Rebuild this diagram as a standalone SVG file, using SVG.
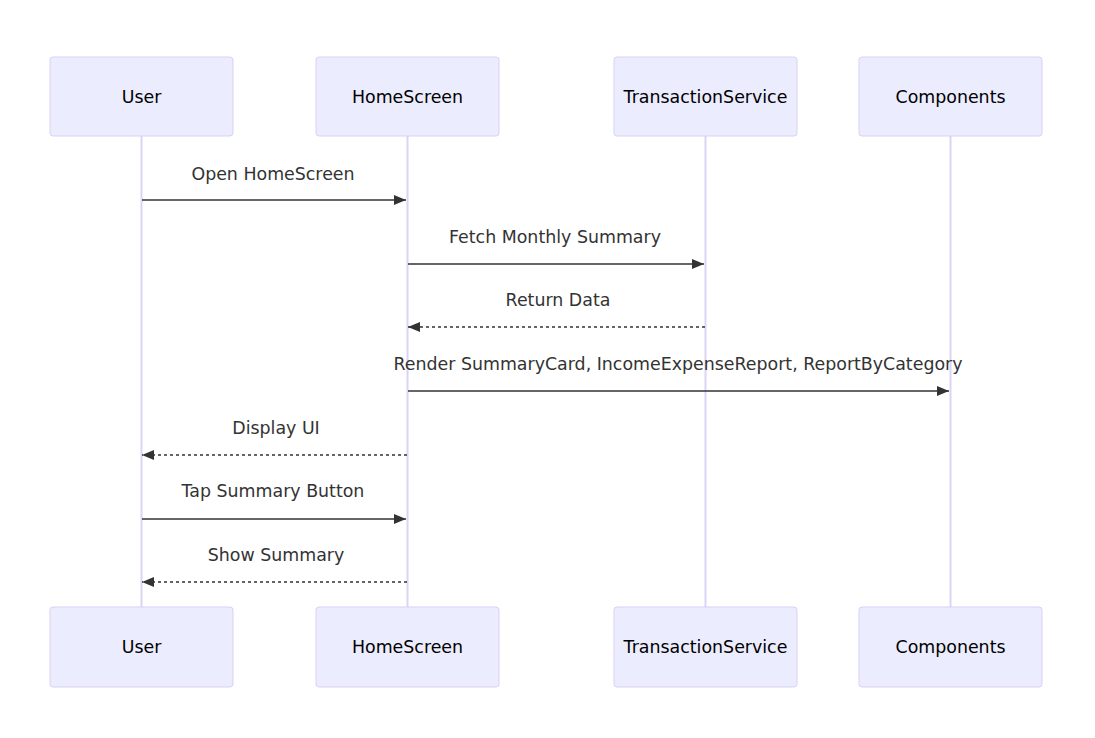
<svg xmlns="http://www.w3.org/2000/svg" width="1095" height="738" viewBox="0 0 1095 738">
<style>
.actor{fill:#ECECFF;stroke:#d9d0f3;stroke-width:1}
.atext{font-family:"DejaVu Sans","Noto Sans",sans-serif;font-size:17.4px;fill:#000;text-anchor:middle;dominant-baseline:central}
.life{stroke:#dcd3f5;stroke-width:2}
.msg{stroke:#333;stroke-width:1.5;fill:none}
.dash{stroke-dasharray:3,3}
.mtext{font-family:"DejaVu Sans","Noto Sans",sans-serif;font-size:17.4px;fill:#333;text-anchor:middle}
</style>
<defs>
<marker id="ah" viewBox="0 0 12 10" refX="12" refY="5" markerWidth="12" markerHeight="10" markerUnits="userSpaceOnUse" orient="auto">
<path d="M0,0 L12,5 L0,10 z" fill="#333"/>
</marker>
</defs>
<rect width="1095" height="738" fill="#fff"/>
<g id="lifelines">
<line class="life" x1="141.5" y1="136" x2="141.5" y2="607"/>
<line class="life" x1="407.5" y1="136" x2="407.5" y2="607"/>
<line class="life" x1="705.5" y1="136" x2="705.5" y2="607"/>
<line class="life" x1="950.5" y1="136" x2="950.5" y2="607"/>
</g>
<g id="user">
<rect class="actor" x="50" y="57" width="183" height="79" rx="3"/>
<text class="atext" x="141.5" y="97">User</text>
<rect class="actor" x="50" y="607" width="183" height="80" rx="3"/>
<text class="atext" x="141.5" y="647">User</text>
</g>
<g id="homescreen">
<rect class="actor" x="316" y="57" width="183" height="79" rx="3"/>
<text class="atext" x="407.5" y="97">HomeScreen</text>
<rect class="actor" x="316" y="607" width="183" height="80" rx="3"/>
<text class="atext" x="407.5" y="647">HomeScreen</text>
</g>
<g id="transactionservice">
<rect class="actor" x="614" y="57" width="183" height="79" rx="3"/>
<text class="atext" x="705.5" y="97">TransactionService</text>
<rect class="actor" x="614" y="607" width="183" height="80" rx="3"/>
<text class="atext" x="705.5" y="647">TransactionService</text>
</g>
<g id="components">
<rect class="actor" x="859" y="57" width="183" height="79" rx="3"/>
<text class="atext" x="950.5" y="97">Components</text>
<rect class="actor" x="859" y="607" width="183" height="80" rx="3"/>
<text class="atext" x="950.5" y="647">Components</text>
</g>
<g id="connectors">
<line class="msg" x1="142" y1="200" x2="406" y2="200" marker-end="url(#ah)"/>
<text class="mtext" x="273" y="180">Open HomeScreen</text>
<line class="msg" x1="408" y1="264" x2="704" y2="264" marker-end="url(#ah)"/>
<text class="mtext" x="555" y="243">Fetch Monthly Summary</text>
<line class="msg dash" x1="705" y1="327" x2="408" y2="327" marker-end="url(#ah)"/>
<text class="mtext" x="558" y="306">Return Data</text>
<line class="msg" x1="408" y1="391" x2="949" y2="391" marker-end="url(#ah)"/>
<text class="mtext" x="678" y="370">Render SummaryCard, IncomeExpenseReport, ReportByCategory</text>
<line class="msg dash" x1="407" y1="455" x2="142" y2="455" marker-end="url(#ah)"/>
<text class="mtext" x="276" y="434">Display UI</text>
<line class="msg" x1="142" y1="519" x2="406" y2="519" marker-end="url(#ah)"/>
<text class="mtext" x="273" y="497">Tap Summary Button</text>
<line class="msg dash" x1="407" y1="582" x2="142" y2="582" marker-end="url(#ah)"/>
<text class="mtext" x="276" y="561">Show Summary</text>
</g>
</svg>
